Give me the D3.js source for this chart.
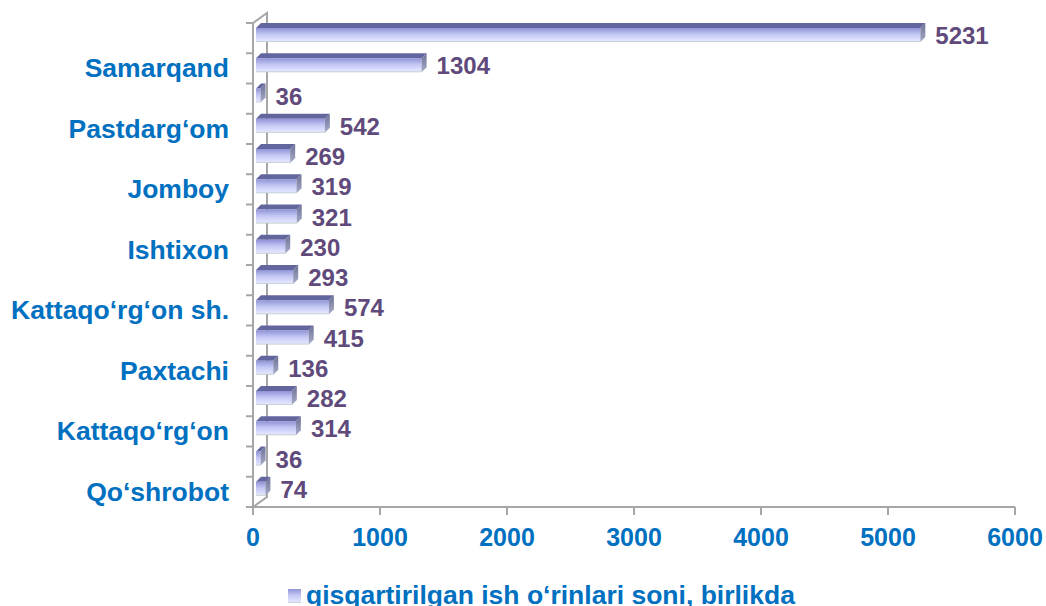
<!DOCTYPE html>
<html>
<head>
<meta charset="utf-8">
<script src="https://cdn.jsdelivr.net/npm/d3@7"></script>
<style>
  body { margin: 0; background: #fff; }
  text { font-family: "Liberation Sans", Arial, sans-serif; font-weight: bold; }
</style>
</head>
<body>
<svg width="1046" height="606"></svg>
<script>
// Districts, top to bottom (only every other name is shown on the axis)
const districts = ["Samarqand sh.", "Samarqand", "Urgut", "Pastdarg‘om", "Toyloq", "Jomboy",
    "Bulung‘ur", "Ishtixon", "Oqdaryo", "Kattaqo‘rg‘on sh.", "Payariq", "Paxtachi",
    "Narpay", "Kattaqo‘rg‘on", "Nurobod", "Qo‘shrobot"]
const values = [5231, 1304, 36, 542, 269, 319, 321, 230, 293, 574, 415, 136, 282, 314, 36, 74]
const xTicks = [0, 1000, 2000, 3000, 4000, 5000, 6000]
const seriesName = "qisqartirilgan ish o‘rinlari soni, birlikda"

const svg = d3.select("svg")

// depth of the 3D box and of the bars
const wallD = { dx: 14, dy: -10 }
const barD = 5

const x = d3.scaleLinear().domain([0, 6000]).range([253, 1015])
const y = d3.scaleBand().domain(districts).range([23, 507])

// bar gradients
const defs = svg.append("defs")
const g1 = defs.append("linearGradient").attr("id", "front")
    .attr("x1", 0).attr("y1", 0).attr("x2", 0).attr("y2", 1)
g1.append("stop").attr("offset", "0%").attr("stop-color", "#8f93d6")
g1.append("stop").attr("offset", "45%").attr("stop-color", "#c3c7f4")
g1.append("stop").attr("offset", "90%").attr("stop-color", "#e2e5ff")
g1.append("stop").attr("offset", "100%").attr("stop-color", "#b8c8c0")
const g2 = defs.append("linearGradient").attr("id", "side")
    .attr("x1", 0).attr("y1", 0).attr("x2", 0).attr("y2", 1)
g2.append("stop").attr("offset", "0%").attr("stop-color", "#6d7196")
g2.append("stop").attr("offset", "100%").attr("stop-color", "#a7acc8")

const axisColor = "#a6a6a6"
const x0 = x(0)

// left wall
const wall = svg.append("g").attr("stroke", axisColor).attr("stroke-width", 2).attr("fill", "none")
wall.append("path").attr("d",
    `M${x0},507 L${x0},23 L${x0 + wallD.dx},${23 + wallD.dy} L${x0 + wallD.dx},${507 + wallD.dy} L${x0},507`)

// left wall ticks
wall.selectAll(".yt")
    .data(d3.range(districts.length + 1))
    .join("line")
    .attr("x1", x0 - 7).attr("x2", x0)
    .attr("y1", i => 23 + i * y.step()).attr("y2", i => 23 + i * y.step())

// floor / x axis
wall.append("line").attr("x1", x0).attr("x2", x(6000)).attr("y1", 507).attr("y2", 507)
wall.selectAll(".xt")
    .data(xTicks)
    .join("line")
    .attr("x1", d => x(d)).attr("x2", d => x(d))
    .attr("y1", 507).attr("y2", 515)

// bars
const bars = svg.append("g").selectAll("g")
    .data(districts.map((d, i) => ({ name: d, value: values[i] })))
    .join("g")

const bx = 3
bars.append("path") // top face
    .attr("fill", "#63669e")
    .attr("d", d => {
        const t = y(d.name) + 5, l = x0 + bx, r = x(d.value) + bx
        return `M${l},${t} L${l + barD},${t - barD} L${r + barD},${t - barD} L${r},${t} Z`
    })
bars.append("rect") // front face
    .attr("fill", "url(#front)")
    .attr("x", x0 + bx)
    .attr("y", d => y(d.name) + 5)
    .attr("width", d => x(d.value) - x0)
    .attr("height", 14)
bars.append("path") // right side
    .attr("fill", "url(#side)")
    .attr("d", d => {
        const t = y(d.name) + 5, r = x(d.value) + bx
        return `M${r},${t} L${r + barD},${t - barD} L${r + barD},${t + 14 - barD} L${r},${t + 14} Z`
    })

// value labels
bars.append("text")
    .attr("x", d => x(d.value) + 18)
    .attr("y", d => y(d.name) + y.bandwidth() / 2 + 6)
    .attr("fill", "#604a7b")
    .attr("font-size", 24)
    .text(d => d.value)

// category labels, every other one from the bottom
svg.append("g").selectAll("text")
    .data(districts.filter((d, i) => (districts.length - 1 - i) % 2 === 0))
    .join("text")
    .attr("x", 229)
    .attr("y", d => y(d) + y.bandwidth() / 2 + 9)
    .attr("text-anchor", "end")
    .attr("fill", "#0070c0")
    .attr("font-size", 26.5)
    .text(d => d)

// x tick labels
svg.append("g").selectAll("text")
    .data(xTicks)
    .join("text")
    .attr("x", d => x(d))
    .attr("y", 546)
    .attr("text-anchor", "middle")
    .attr("fill", "#0070c0")
    .attr("font-size", 25)
    .text(d => d)

// legend
const legend = svg.append("g")
legend.append("rect")
    .attr("x", 288).attr("y", 589).attr("width", 13).attr("height", 14)
    .attr("fill", "url(#front)")
legend.append("text")
    .attr("x", 306).attr("y", 604)
    .attr("fill", "#0070c0")
    .attr("font-size", 26.5)
    .text(seriesName)
</script>
</body>
</html>
